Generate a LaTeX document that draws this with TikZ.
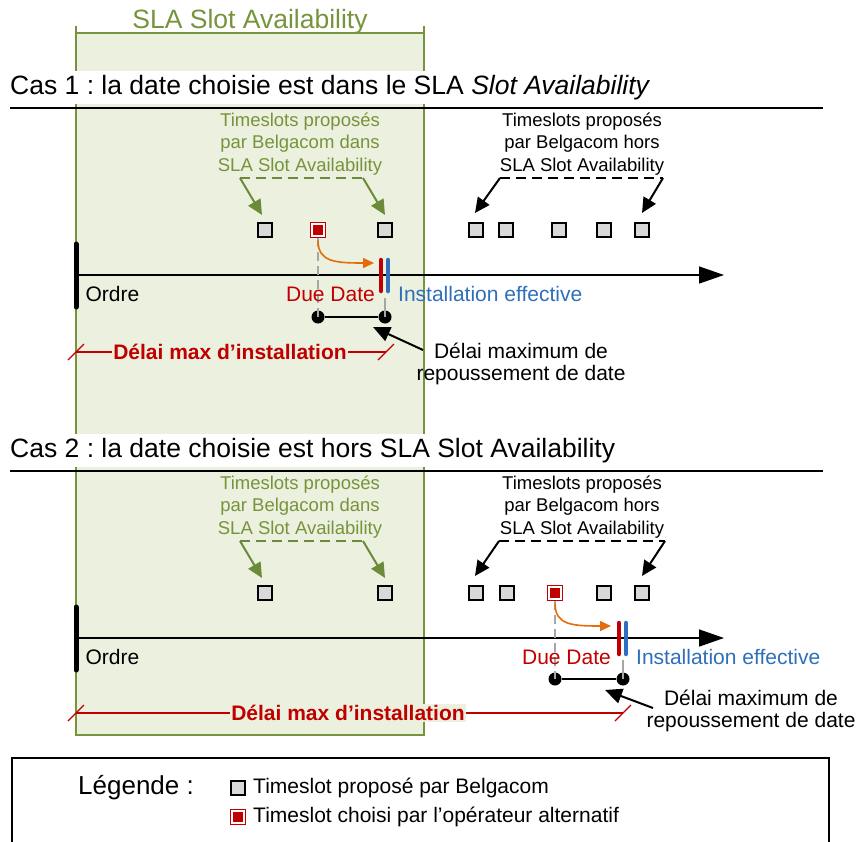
\documentclass[tikz,border=0pt]{standalone}
\usepackage{fontspec}
\setmainfont{Liberation Sans}
\usetikzlibrary{arrows.meta,calc}
\frenchspacing
\definecolor{sgreen}{HTML}{77933C}
\definecolor{sgarrow}{HTML}{6B8A3A}
\definecolor{sfill}{HTML}{EBF1DE}
\definecolor{sred}{HTML}{C00000}
\definecolor{sblue}{HTML}{2F6EBA}
\definecolor{sorange}{HTML}{E46C0A}
\definecolor{sgray}{HTML}{D9D9D9}
\definecolor{sdash}{HTML}{A6A6A6}
\begin{document}
\begin{tikzpicture}[x=1pt,y=-1pt,
  fbig/.style={font=\fontsize{26.5}{30}\selectfont},
  fmid/.style={font=\fontsize{21}{22}\selectfont},
  fsmall/.style={font=\fontsize{18.5}{22.5}\selectfont},
  slot/.style={draw=black, fill=sgray, line width=1.6pt, minimum size=14.5pt, inner sep=0pt},
  selslot/.style={draw=sred, fill=white, line width=1.6pt, minimum size=15pt, inner sep=0pt,
    path picture={\fill[sred] ($(path picture bounding box.south west)+(2.8,-2.8)$) rectangle ($(path picture bounding box.north east)+(-2.8,2.8)$);}},
  titleband/.style={fbig, fill=white, inner xsep=0pt, inner ysep=4pt, anchor=base west},
  caseline/.style={line width=2pt},
  gtext/.style={fsmall, text=sgreen, align=center},
  btext/.style={fsmall, text=black, align=center},
  gdash/.style={sgarrow, line width=1.5pt, dash pattern=on 10pt off 6pt},
  bdash/.style={black, line width=1.5pt, dash pattern=on 10pt off 6pt},
  garrow/.style={sgarrow, line width=2pt, -{Triangle[length=15pt,width=14pt]}},
  barrow/.style={black, line width=2pt, -{Triangle[length=15pt,width=14pt]}},
  tline/.style={black, line width=1.5pt, -{Triangle[length=25pt,width=17pt]}},
  ordrebar/.style={black, line width=5pt, line cap=round},
  redbar/.style={sred, line width=4.5pt, line cap=round},
  bluebar/.style={sblue, line width=4.5pt, line cap=round},
  graydash/.style={sdash, line width=1.8pt, dash pattern=on 9pt off 5pt},
  grayline/.style={sdash, line width=1.8pt},
  chosearrow/.style={sorange, line width=1.6pt, -{Triangle[length=11pt,width=10pt]}},
  seg/.style={black, line width=2pt},
  dot/.style={circle, fill=black, inner sep=0pt, minimum size=13pt},
  delaiarrow/.style={black, line width=2pt, -{Triangle[length=17pt,width=15pt]}},
  dimline/.style={sred, line width=1.3pt},
  dimtext/.style={font=\fontsize{21}{22}\selectfont\bfseries, text=sred, fill=sfill, inner xsep=1pt, inner ysep=1pt}
]
\useasboundingbox (0,0) rectangle (858,841);
% SLA region
\fill[sfill] (76,33) rectangle (424,735);
\draw[sgreen, line width=2pt] (76,26) -- (76,735) -- (424,735) -- (424,26);
\draw[sgreen, line width=1.5pt] (76,33) -- (424,33);
\node[fbig, text=sgreen, anchor=base] (slatitle) at (250,28) {SLA Slot Availability};

% ---------------- Cas 1
\node[titleband] (cas1) at (10,94) {Cas 1 : la date choisie est dans le SLA \textit{Slot Availability}};
\draw[caseline] (10,108) -- (823,108);

\node[gtext] (c1gt) at (300,144) {Timeslots propos\'es\\par Belgacom dans\\SLA Slot Availability};
\node[btext] (c1bt) at (582,144) {Timeslots propos\'es\\par Belgacom hors\\SLA Slot Availability};
\coordinate (c1gl) at (240,178); \coordinate (c1gr) at (363,178);
\coordinate (c1bl) at (500,178); \coordinate (c1br) at (663,178);
\draw[gdash] (c1gl) -- (c1gr);
\draw[bdash] (c1bl) -- (c1br);

\node[slot] (c1g1) at (265,230) {};
\node[selslot] (c1sel) at (318,230) {};
\node[slot] (c1g2) at (385,230) {};
\node[slot] (c1b1) at (476,230) {};
\node[slot] (c1b2) at (506,230) {};
\node[slot] (c1b3) at (559,230) {};
\node[slot] (c1b4) at (604,230) {};
\node[slot] (c1b5) at (642,230) {};

\draw[garrow] (c1gl) -- ($(c1g1.north)+(-3,-7)$);
\draw[garrow] (c1gr) -- ($(c1g2.north)+(0,-7)$);
\draw[barrow] (c1bl) -- ($(c1b1.north)+(-1,-9)$);
\draw[barrow] (c1br) -- ($(c1b5.north)+(0,-9)$);

\coordinate (t1s) at (76,275); \coordinate (t1e) at (724,275);
\draw[tline] (t1s) -- (t1e);
\draw[ordrebar] (76,244) -- (76,307);
\node[fmid, anchor=west] (ordre1) at (82,294) {Ordre};

\node[dot] (c1d1) at (318,317) {};
\node[dot] (c1d2) at (385,317) {};
\draw[graydash] (c1sel.south) -- (c1d1.center);
\draw[grayline] (385,298) -- (c1d2.center);
\draw[seg] (c1d1) -- (c1d2);
\draw[redbar] (381,260) -- (381,291);
\draw[bluebar] (388,260) -- (388,291);
\coordinate (c1ch) at (374,263);
\draw[chosearrow] ($(c1sel.south)+(0,2)$) .. controls (318,262) and (335,263) .. (c1ch);
\node[fmid, text=sred, anchor=east, inner xsep=0pt] (c1due) at (375,294) {Due Date};
\node[fmid, text=sblue, anchor=west, inner xsep=0pt] (c1inst) at (398,294) {Installation effective};

\node[align=center, font=\fontsize{21}{21.5}\selectfont] (c1delai) at (521,364) {D\'elai maximum de\\repoussement de date};
\coordinate (c1dtail) at (423,350);
\draw[delaiarrow] (c1dtail) -- (373,327);

\coordinate (c1ml) at (76,352); \coordinate (c1mr) at (386,352);
\draw[dimline] (c1ml) -- (c1mr);
\draw[dimline] ($(c1ml)+(-8,8)$) -- ($(c1ml)+(8,-8)$);
\draw[dimline] ($(c1mr)+(-8,8)$) -- ($(c1mr)+(8,-8)$);
\node[dimtext] (c1max) at (230,352) {D\'elai max d\textquoteright installation};

% ---------------- Cas 2
\node[titleband] (cas2) at (10,457) {Cas 2 : la date choisie est hors SLA Slot Availability};
\draw[caseline] (10,471) -- (823,471);

\node[gtext] (c2gt) at (300,507) {Timeslots propos\'es\\par Belgacom dans\\SLA Slot Availability};
\node[btext] (c2bt) at (582,507) {Timeslots propos\'es\\par Belgacom hors\\SLA Slot Availability};
\coordinate (c2gl) at (240,541); \coordinate (c2gr) at (363,541);
\coordinate (c2bl) at (499,541); \coordinate (c2br) at (665,541);
\draw[gdash] (c2gl) -- (c2gr);
\draw[bdash] (c2bl) -- (c2br);

\node[slot] (c2g1) at (265,593) {};
\node[slot] (c2g2) at (385,593) {};
\node[slot] (c2b1) at (476,593) {};
\node[slot] (c2b2) at (507,593) {};
\node[selslot] (c2sel) at (555,593) {};
\node[slot] (c2b4) at (604,593) {};
\node[slot] (c2b5) at (642,593) {};

\draw[garrow] (c2gl) -- ($(c2g1.north)+(-3,-7)$);
\draw[garrow] (c2gr) -- ($(c2g2.north)+(0,-7)$);
\draw[barrow] (c2bl) -- ($(c2b1.north)+(-1,-9)$);
\draw[barrow] (c2br) -- ($(c2b5.north)+(0,-9)$);

\coordinate (t2s) at (76,638); \coordinate (t2e) at (724,638);
\draw[tline] (t2s) -- (t2e);
\draw[ordrebar] (76,607) -- (76,670);
\node[fmid, anchor=west] (ordre2) at (82,657) {Ordre};

\node[dot] (c2d1) at (555,679) {};
\node[dot] (c2d2) at (623,679) {};
\draw[graydash] (c2sel.south) -- (c2d1.center);
\draw[grayline] (623,660) -- (c2d2.center);
\draw[seg] (c2d1) -- (c2d2);
\draw[redbar] (619,623) -- (619,654);
\draw[bluebar] (626,623) -- (626,654);
\coordinate (c2ch) at (611,626);
\draw[chosearrow] ($(c2sel.south)+(0,2)$) .. controls (555,625) and (572,626) .. (c2ch);
\node[fmid, text=sred, anchor=east, inner xsep=0pt] (c2due) at (611,657) {Due Date};
\node[fmid, text=sblue, anchor=west, inner xsep=0pt] (c2inst) at (636,657) {Installation effective};

\node[align=center, font=\fontsize{21}{21.5}\selectfont] (c2delai) at (751,711) {D\'elai maximum de\\repoussement de date};
\coordinate (c2dtail) at (653,708);
\draw[delaiarrow] (c2dtail) -- (605,690);

\coordinate (c2ml) at (76,713); \coordinate (c2mr) at (623,713);
\draw[dimline] (c2ml) -- (c2mr);
\draw[dimline] ($(c2ml)+(-8,8)$) -- ($(c2ml)+(8,-8)$);
\draw[dimline] ($(c2mr)+(-8,8)$) -- ($(c2mr)+(8,-8)$);
\node[dimtext] (c2max) at (348,713) {D\'elai max d\textquoteright installation};

% ---------------- Legend
\draw[black, line width=1.5pt] (12,860) -- (12,758) -- (829,758) -- (829,860);
\node[anchor=west, inner xsep=0pt, font=\fontsize{26}{30}\selectfont] (leg) at (78,788) {L\'egende :};
\node[slot] (legslot) at (238,788) {};
\node[fmid, anchor=west, inner xsep=0pt] (legt1) at (253,788) {Timeslot propos\'e par Belgacom};
\node[selslot] (legsel) at (238,817) {};
\node[fmid, anchor=west, inner xsep=0pt] (legt2) at (253,817) {Timeslot choisi par l\textquoteright op\'erateur alternatif};
\end{tikzpicture}
\end{document}
